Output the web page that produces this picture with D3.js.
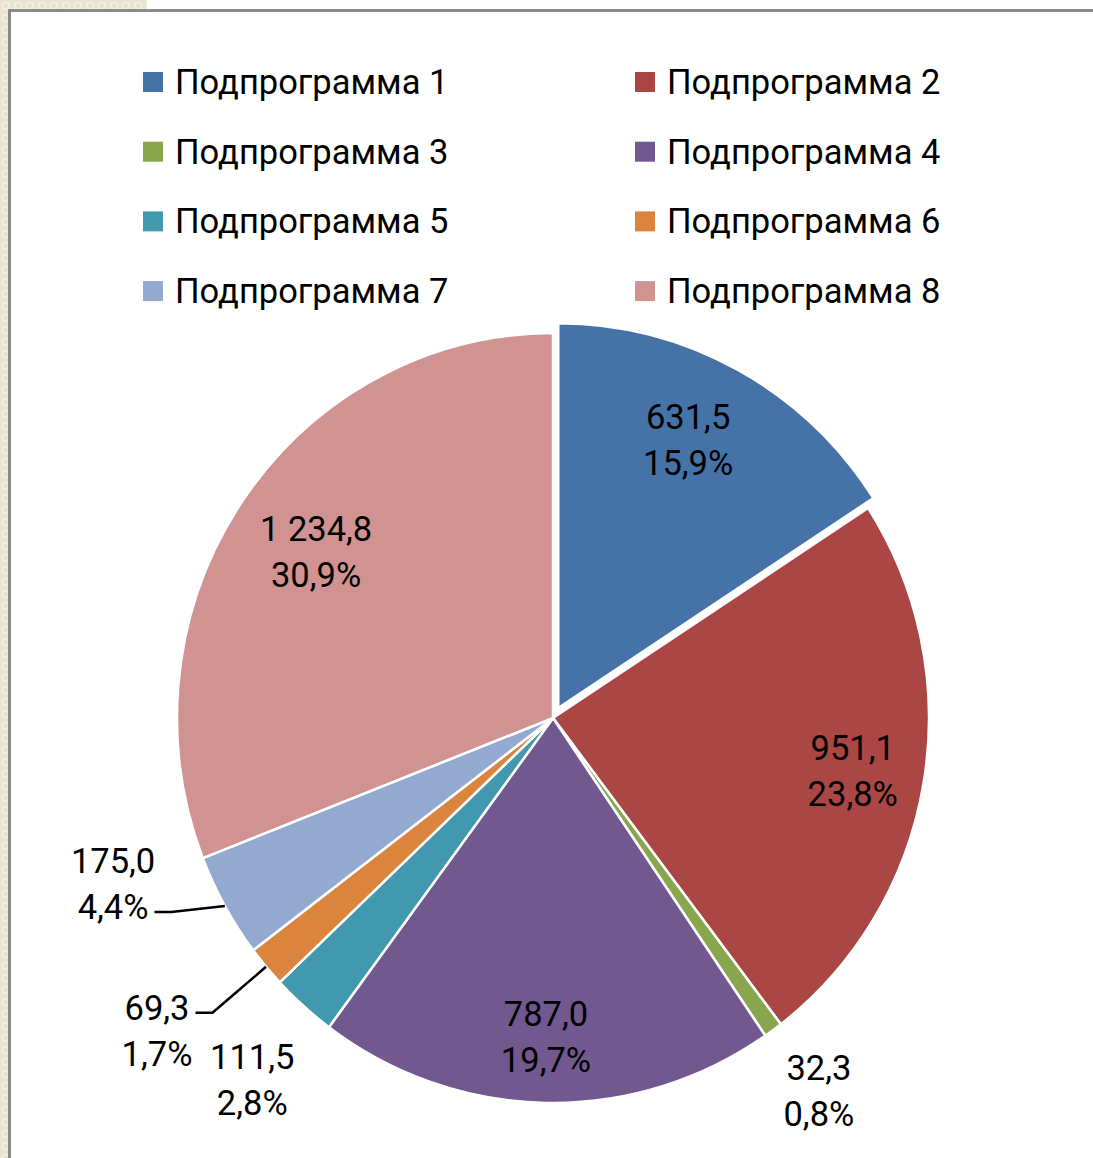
<!DOCTYPE html>
<html>
<head>
<meta charset="utf-8">
<script src="https://cdn.jsdelivr.net/npm/d3@7"></script>
<style>
  html, body { margin: 0; padding: 0; background: #fff; }
  svg { display: block; }
  text { font-family: Roboto, "Noto Sans", sans-serif; fill: #000; }
</style>
</head>
<body>
<svg width="1093" height="1158"></svg>
<script>
const categories = ['Подпрограмма 1', 'Подпрограмма 2', 'Подпрограмма 3', 'Подпрограмма 4',
  'Подпрограмма 5', 'Подпрограмма 6', 'Подпрограмма 7', 'Подпрограмма 8'];
const values = [631.5, 951.1, 32.3, 787.0, 111.5, 69.3, 175.0, 1234.8];
const valueLabels = ['631,5', '951,1', '32,3', '787,0', '111,5', '69,3', '175,0', '1 234,8'];
const percentLabels = ['15,9%', '23,8%', '0,8%', '19,7%', '2,8%', '1,7%', '4,4%', '30,9%'];
const colors = ['#4572A7', '#AA4643', '#89A54E', '#71588F', '#4198AF', '#DB843D', '#93A9CF', '#D19392'];

const svg = d3.select('svg');
const width = +svg.attr('width');
const height = +svg.attr('height');

// beige slide background peeking out at the top-left
const defs = svg.append('defs');
const pat = defs.append('pattern')
  .attr('id', 'beige')
  .attr('width', 12).attr('height', 12)
  .attr('patternUnits', 'userSpaceOnUse');
pat.append('rect').attr('width', 12).attr('height', 12).attr('fill', '#e9e5cf');
pat.append('rect').attr('x', 2).attr('y', 2).attr('width', 8).attr('height', 8).attr('fill', '#f1eedf');
pat.append('rect').attr('x', 4).attr('y', 4).attr('width', 4).attr('height', 4).attr('fill', '#e6e2cb');

svg.append('rect').attr('width', 147).attr('height', 10).attr('fill', 'url(#beige)');
svg.append('rect').attr('width', 8).attr('height', height).attr('fill', 'url(#beige)');

// chart frame
svg.append('path')
  .attr('d', `M9.5,${height} V10.5 H${width}`)
  .attr('fill', 'none')
  .attr('stroke', '#8a8a8a')
  .attr('stroke-width', 3);

// legend
const legend = svg.append('g')
  .selectAll('g')
  .data(categories)
  .join('g')
  .attr('transform', (d, i) => `translate(${i % 2 ? 635 : 143},${72 + Math.floor(i / 2) * 69.7})`);

legend.append('rect')
  .attr('width', 20).attr('height', 20)
  .attr('fill', (d, i) => colors[i]);

legend.append('text')
  .attr('x', 32)
  .attr('y', 22)
  .attr('font-size', 34.5)
  .text(d => d);

// pie (the picture is slightly taller than wide, hence ky)
const cx = 553, cy = 718, r = 376, ky = 385 / 376;
const explode = [11, 0, 0, 0, 0, 0, 0, 0];

const pie = d3.pie().sort(null).value(d => d);
const arcs = pie(values);
const arc = d3.arc().innerRadius(0).outerRadius(r);

const mid = d => (d.startAngle + d.endAngle) / 2;
const polar = (a, rad) => [cx + Math.sin(a) * rad, cy - Math.cos(a) * rad * ky];

svg.append('g')
  .attr('transform', `translate(${cx},${cy}) scale(1,${ky})`)
  .selectAll('path')
  .data(arcs)
  .join('path')
  .attr('transform', (d, i) => `translate(${Math.sin(mid(d)) * explode[i]},${-Math.cos(mid(d)) * explode[i]})`)
  .attr('d', arc)
  .attr('fill', (d, i) => colors[i])
  .attr('stroke', '#fff')
  .attr('stroke-width', 2.5)
  .attr('stroke-linejoin', 'round');

// label placement: radius factor and angular nudge (degrees)
const labelPlace = [
  { k: 0.777, da: -2 },
  { k: 0.809, da: 0 },
  { k: 1.199, da: -0.3 },
  { k: 0.828, da: 0.2 },
  { k: 1.234, da: -1.2 },
  { k: 1.33, da: 2.6 },
  { k: 1.247, da: 9 },
  { k: 0.763, da: 0 }
];

const labels = svg.append('g')
  .selectAll('g')
  .data(arcs)
  .join('g')
  .attr('transform', (d, i) => {
    const p = labelPlace[i];
    const [x, y] = polar(mid(d) + p.da * Math.PI / 180, r * p.k + explode[i]);
    return `translate(${x},${y})`;
  });

labels.append('text')
  .attr('text-anchor', 'middle')
  .attr('font-size', 34.5)
  .attr('y', -11)
  .text((d, i) => valueLabels[i]);

labels.append('text')
  .attr('text-anchor', 'middle')
  .attr('font-size', 34.5)
  .attr('y', 35)
  .text((d, i) => percentLabels[i]);

// leader lines for the two small slices on the left
const leaders = [
  { i: 6, row: 35 },
  { i: 5, row: -11 }
];
svg.append('g')
  .selectAll('path')
  .data(leaders)
  .join('path')
  .attr('d', L => {
    const d = arcs[L.i];
    const p = labelPlace[L.i];
    const [lx, ly] = polar(mid(d) + p.da * Math.PI / 180, r * p.k);
    const node = labels.nodes()[L.i];
    const t = d3.select(node).selectAll('text').nodes()[L.row < 0 ? 0 : 1];
    const w = t.getComputedTextLength();
    const x0 = lx + w / 2 + 6;
    const y0 = ly + L.row - 7;
    const [ex, ey] = polar(mid(d), r);
    return `M${x0},${y0} H${x0 + 17} L${ex},${ey}`;
  })
  .attr('fill', 'none')
  .attr('stroke', '#000')
  .attr('stroke-width', 2.5);
</script>
</body>
</html>
